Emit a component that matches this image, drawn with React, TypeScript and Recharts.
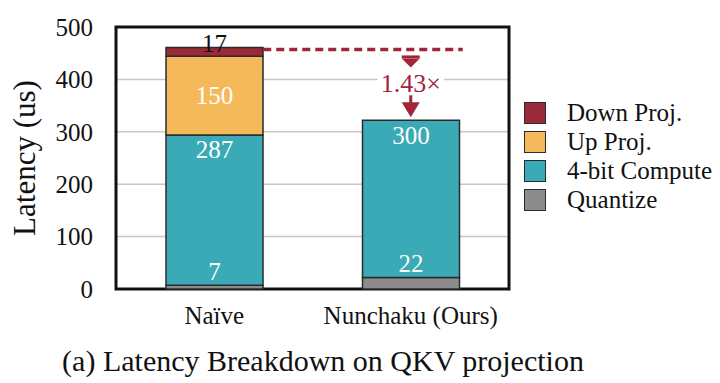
import React from 'react';
import {
    Bar,
    BarChart,
    CartesianGrid,
    LabelList,
    Legend,
    ReferenceLine,
    XAxis,
    YAxis,
} from 'recharts';

const categories = ['Naïve', 'Nunchaku (Ours)'];
const quantize = [7, 22];
const compute = [287, 300];
const upProj = [150, null];
const downProj = [17, null];
const yTicks = [0, 100, 200, 300, 400, 500];
const speedupText = '1.43×';

const series = [
    { key: 'quantize', name: 'Quantize', color: '#8c8c8c' },
    { key: 'compute', name: '4-bit Compute', color: '#3aaab6' },
    { key: 'up', name: 'Up Proj.', color: '#f3b95b' },
    { key: 'down', name: 'Down Proj.', color: '#9b2a38' },
];

const data = categories.map((name, i) => ({
    name,
    quantize: quantize[i],
    compute: compute[i],
    up: upProj[i],
    down: downProj[i],
}));

const naiveTotal = quantize[0] + compute[0] + (upProj[0] ?? 0) + (downProj[0] ?? 0);
const oursTotal = quantize[1] + compute[1];

const WIDTH = 720;
const HEIGHT = 383;
const MARGIN = { top: 27, right: 211, left: 56, bottom: 64 };
const Y_AXIS_W = 60;
const X_AXIS_H = 30;
const plotLeft = MARGIN.left + Y_AXIS_W;
const plotTop = MARGIN.top;
const plotW = WIDTH - MARGIN.right - plotLeft;
const plotH = HEIGHT - MARGIN.bottom - X_AXIS_H - plotTop;

const FONT = '"Liberation Serif", "Times New Roman", serif';
const ACCENT = '#a3243a';
const EDGE = '#2b2b2b';

const labelText = (x: number, y: number, value: any, fill = '#fff', baseline: any = 'auto') => (
    <text x={x} y={y} textAnchor="middle" dominantBaseline={baseline} fill={fill} fontSize={25} fontFamily={FONT}>
        {value}
    </text>
);

const quantizeLabel = (p: any) => (p.value ? labelText(p.x + p.width / 2, p.y - 5, p.value) : null);
const computeLabel = (p: any) => (p.value ? labelText(p.x + p.width / 2, p.y + 23.5, p.value) : null);
const upLabel = (p: any) => (p.value ? labelText(p.x + p.width / 2, p.y + p.height / 2, p.value, '#fff', 'central') : null);
const downLabel = (p: any) => (p.value ? labelText(p.x + p.width / 2, p.y + 5, p.value, '#111') : null);

const labelFns: Record<string, (p: any) => React.ReactNode> = {
    quantize: quantizeLabel,
    compute: computeLabel,
    up: upLabel,
    down: downLabel,
};

// dashed line from the top of the naive bar across to ours
const dashedShape = (p: any) => (
    <line x1={p.x1 + 49} y1={p.y1 + 2} x2={p.x2 + 52} y2={p.y2 + 2} stroke={ACCENT} strokeWidth={3.5} strokeDasharray="8 5" />
);

// vertical arrow annotation between the two totals
const arrowShape = (p: any) => {
    const x = p.x1;
    const top = p.y1 + 2;
    const bottom = p.y2;
    const mid = (top + bottom) / 2 - 1;
    const tip = bottom - 3;
    return (
        <g>
            <rect x={x - 9} y={top + 6} width={18} height={3} fill={ACCENT} />
            <polygon points={`${x - 9},${top + 9} ${x + 9},${top + 9} ${x},${top + 18}`} fill={ACCENT} />
            <rect x={x - 33} y={mid - 12} width={66} height={24} fill="#fff" />
            <text x={x} y={mid} textAnchor="middle" dominantBaseline="central" fill={ACCENT} fontSize={26} fontFamily={FONT}>
                {speedupText}
            </text>
            <rect x={x - 1.5} y={tip - 22} width={3} height={8} fill={ACCENT} />
            <polygon points={`${x - 9},${tip - 15} ${x + 9},${tip - 15} ${x},${tip}`} fill={ACCENT} />
        </g>
    );
};

const renderLegend = () => (
    <div style={{ fontFamily: FONT, fontSize: 25, color: '#111' }}>
        {[...series].reverse().map((s) => (
            <div key={s.key} style={{ display: 'flex', alignItems: 'center', height: 29 }}>
                <span
                    style={{
                        display: 'inline-block',
                        width: 20,
                        height: 20,
                        background: s.color,
                        border: `1.5px solid ${EDGE}`,
                        marginRight: 21,
                    }}
                />
                <span style={{ lineHeight: '29px' }}>{s.name}</span>
            </div>
        ))}
    </div>
);

const xTick = (p: any) => (
    <text x={p.x} y={p.y + 35} textAnchor="middle" fill="#111" fontSize={25} fontFamily={FONT}>
        {p.payload.value}
    </text>
);

export default function App() {
    return (
        <div style={{ position: 'absolute', left: 0, top: 0, width: WIDTH, height: HEIGHT, background: '#fff', fontFamily: FONT }}>
            <BarChart width={WIDTH} height={HEIGHT} data={data} margin={MARGIN} style={{ fontFamily: FONT }}>
                <CartesianGrid vertical={false} horizontalValues={[100, 200, 300, 400]} stroke="#c8c8c8" strokeWidth={1.5} />
                <XAxis
                    dataKey="name"
                    height={X_AXIS_H}
                    axisLine={false}
                    tickLine={false}
                    tickSize={0}
                    tickMargin={0}
                    tick={xTick}
                    interval={0}
                />
                <YAxis
                    width={Y_AXIS_W}
                    domain={[0, 500]}
                    ticks={yTicks}
                    axisLine={false}
                    tickLine={false}
                    tickSize={0}
                    tickMargin={23}
                    tick={{ fill: '#111', fontSize: 25, fontFamily: FONT }}
                />
                {series.map((s) => (
                    <Bar
                        key={s.key}
                        dataKey={s.key}
                        name={s.name}
                        stackId="a"
                        fill={s.color}
                        stroke={EDGE}
                        strokeWidth={1.5}
                        barSize={97}
                        isAnimationActive={false}
                    >
                        <LabelList dataKey={s.key} content={labelFns[s.key]} />
                    </Bar>
                ))}
                <ReferenceLine
                    segment={[
                        { x: categories[0], y: naiveTotal },
                        { x: categories[1], y: naiveTotal },
                    ]}
                    ifOverflow="visible"
                    shape={dashedShape}
                />
                <ReferenceLine
                    segment={[
                        { x: categories[1], y: naiveTotal },
                        { x: categories[1], y: oursTotal },
                    ]}
                    ifOverflow="visible"
                    shape={arrowShape}
                />
                <rect x={plotLeft} y={plotTop} width={plotW} height={plotH} fill="none" stroke="#111" strokeWidth={3} />
                <Legend
                    layout="vertical"
                    align="center"
                    verticalAlign="middle"
                    content={renderLegend}
                    wrapperStyle={{ left: 524, top: 98, width: 196 }}
                />
                <text transform="translate(35 158) rotate(-90)" x={0} y={0} textAnchor="middle" fill="#111" fontSize={31} fontFamily={FONT}>
                    Latency (us)
                </text>
                <text x={323} y={371} textAnchor="middle" fill="#111" fontSize={30} fontFamily={FONT}>
                    (a) Latency Breakdown on QKV projection
                </text>
            </BarChart>
        </div>
    );
}
